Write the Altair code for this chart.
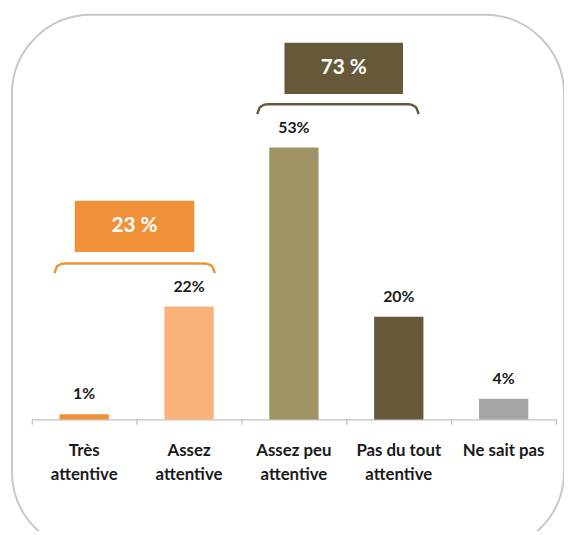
import altair as alt
import pandas as pd

# --- data -----------------------------------------------------------------
categories = ["Très attentive", "Assez attentive", "Assez peu attentive",
              "Pas du tout attentive", "Ne sait pas"]
values = [1, 22, 53, 20, 4]
bar_colors = ["#F0913A", "#F9B27A", "#A09464", "#66593A", "#A6A6A6"]

group_labels = ["23 %", "73 %"]
group_colors = ["#F0913A", "#66593A"]
# box extents (category-index units, percent units)
box_x = [0.41, 2.41]
box_x2 = [1.55, 3.54]
box_y = [32.6, 63.4]
box_y2 = [42.6, 73.4]
# bracket polylines (category-index units, percent units)
bracket23_x = [0.217, 0.245, 0.311, 1.650, 1.717, 1.745]
bracket23_y = [28.5, 29.9, 30.4, 30.4, 29.9, 28.5]
bracket73_x = [2.151, 2.179, 2.245, 3.595, 3.661, 3.689]
bracket73_y = [59.5, 60.9, 61.4, 61.4, 60.9, 59.5]

W, H = 530, 389
FONT = "Lato"
BAR_HALF = 0.235

idx = list(range(len(categories)))
bars_df = pd.DataFrame({
    "cat": categories, "val": values,
    "i0": [i + 0.5 - BAR_HALF for i in idx],
    "i1": [i + 0.5 + BAR_HALF for i in idx],
    "ic": [i + 0.5 for i in idx],
    "label": [f"{v}%" for v in values], "color": bar_colors,
    "axlabel": [c.replace(" attentive", "|attentive") for c in categories],
})
box_df = pd.DataFrame({"label": group_labels, "x": box_x, "x2": box_x2,
                       "y": box_y, "y2": box_y2, "color": group_colors})
box_df["xm"] = (box_df["x"] + box_df["x2"]) / 2
box_df["ym"] = (box_df["y"] + box_df["y2"]) / 2
br23 = pd.DataFrame({"x": bracket23_x, "y": bracket23_y, "o": list(range(6))})
br73 = pd.DataFrame({"x": bracket73_x, "y": bracket73_y, "o": list(range(6))})

yscale = alt.Scale(domain=[0, 75], nice=False, zero=True)
xq = alt.Scale(domain=[0, len(categories)], nice=False, zero=False)

frame = alt.Chart(pd.DataFrame({"a": [0]})).mark_rect(
    filled=False, stroke="#C8C8C8", strokeWidth=2, cornerRadius=80
).encode(x=alt.value(-20), x2=alt.value(538), y=alt.value(-20), y2=alt.value(522))

xaxis = alt.Axis(values=list(range(len(categories) + 1)), labels=False, title=None,
                 grid=False, domainColor="#B0B0B0", tickColor="#B0B0B0", tickSize=5)

bars = alt.Chart(bars_df).mark_rect().encode(
    x=alt.X("i0:Q", scale=xq, axis=xaxis), x2="i1:Q",
    y=alt.Y("val:Q", scale=yscale, axis=None), y2=alt.datum(0),
    color=alt.Color("color:N", scale=None, legend=None),
)
bar_text = alt.Chart(bars_df).mark_text(
    dy=-20, baseline="middle", font=FONT, fontSize=16, fontWeight="bold", color="#1A1A1A"
).encode(x=alt.X("ic:Q", scale=xq), y=alt.Y("val:Q", scale=yscale), text="label:N")

cat_text = alt.Chart(bars_df).mark_text(
    baseline="middle", font=FONT, fontSize=17, fontWeight="bold", color="#1A1A1A",
    lineBreak="|", lineHeight=24
).encode(x=alt.X("ic:Q", scale=xq), y=alt.value(H + 32), text="axlabel:N")

boxes = alt.Chart(box_df).mark_rect().encode(
    x=alt.X("x:Q", scale=xq), x2="x2:Q",
    y=alt.Y("y:Q", scale=yscale), y2="y2:Q",
    color=alt.Color("color:N", scale=None, legend=None),
)
box_text = alt.Chart(box_df).mark_text(
    font=FONT, fontSize=21, fontWeight="bold", color="white", baseline="middle"
).encode(x=alt.X("xm:Q", scale=xq), y=alt.Y("ym:Q", scale=yscale), text="label:N")
line23 = alt.Chart(br23).mark_line(
    color=group_colors[0], strokeWidth=2.5, interpolate="monotone"
).encode(x=alt.X("x:Q", scale=xq), y=alt.Y("y:Q", scale=yscale), order="o:Q")
line73 = alt.Chart(br73).mark_line(
    color=group_colors[1], strokeWidth=2.5, interpolate="monotone"
).encode(x=alt.X("x:Q", scale=xq), y=alt.Y("y:Q", scale=yscale), order="o:Q")

chart = alt.layer(frame, bars, bar_text, cat_text, boxes, box_text, line23, line73).properties(
    width=W, height=H,
    autosize=alt.AutoSizeParams(type="none"),
    padding={"left": 24, "top": 24, "right": 8, "bottom": 110},
).configure_view(stroke=None)

chart.save("out.html", embed_options={"renderer": "svg", "actions": False})
